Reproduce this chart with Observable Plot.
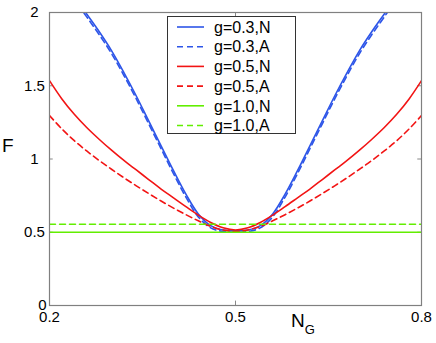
<!DOCTYPE html>
<html>
<head>
<meta charset="utf-8">
<script src="https://cdn.jsdelivr.net/npm/d3@7"></script>
<script src="https://cdn.jsdelivr.net/npm/@observablehq/plot@0.6"></script>
<style>
  body { margin: 0; background: #fff; font-family: "Liberation Sans", Arial, sans-serif; }
  #wrap { position: relative; width: 436px; height: 343px; }
  .lab { position: absolute; color: #000; line-height: 1; white-space: nowrap; }
</style>
</head>
<body>
<div id="wrap"></div>
<script>
// ---- data ----
const xs = [0.20,0.22,0.24,0.26,0.28,0.30,0.32,0.34,0.36,0.38,0.40,0.42,0.44,0.46,0.48,0.50,
            0.52,0.54,0.56,0.58,0.60,0.62,0.64,0.66,0.68,0.70,0.72,0.74,0.76,0.78,0.80];
const g03N = [2.35,2.23,2.11,1.99,1.87,1.74,1.59,1.43,1.26,1.09,0.92,0.76,0.625,0.545,0.515,0.51,
              0.515,0.545,0.625,0.76,0.92,1.09,1.26,1.43,1.59,1.74,1.87,1.99,2.11,2.23,2.35];
const g03A = [2.33,2.21,2.09,1.97,1.85,1.72,1.57,1.41,1.24,1.07,0.90,0.74,0.605,0.53,0.505,0.50,
              0.505,0.53,0.605,0.74,0.90,1.07,1.24,1.41,1.57,1.72,1.85,1.97,2.09,2.21,2.33];
const g05N = [1.535,1.41,1.305,1.215,1.135,1.06,0.99,0.925,0.86,0.795,0.735,0.675,0.617,0.567,0.53,0.515,
              0.53,0.567,0.617,0.675,0.735,0.795,0.86,0.925,0.99,1.06,1.135,1.215,1.305,1.41,1.535];
const g05A = [1.297,1.205,1.125,1.055,0.99,0.93,0.872,0.817,0.764,0.713,0.665,0.62,0.578,0.54,0.515,0.505,
              0.515,0.54,0.578,0.62,0.665,0.713,0.764,0.817,0.872,0.93,0.99,1.055,1.125,1.205,1.297];
const g10N = [0.5,0.5,0.5,0.5,0.5,0.5,0.5,0.5,0.5,0.5,0.5,0.5,0.5,0.5,0.5,0.5,
              0.5,0.5,0.5,0.5,0.5,0.5,0.5,0.5,0.5,0.5,0.5,0.5,0.5,0.5,0.5];
const g10A = [0.555,0.555,0.555,0.555,0.555,0.555,0.555,0.555,0.555,0.555,0.555,0.555,0.555,0.555,0.555,0.555,
              0.555,0.555,0.555,0.555,0.555,0.555,0.555,0.555,0.555,0.555,0.555,0.555,0.555,0.555,0.555];
const seriesNames = ["g=0.3,N","g=0.3,A","g=0.5,N","g=0.5,A","g=1.0,N","g=1.0,A"];
const seriesValues = [g03N, g03A, g05N, g05A, g10N, g10A];
const xTicks = [0.2, 0.5, 0.8];
const yTicks = [0, 0.5, 1, 1.5, 2];

// ---- styles ----
const colors = ["#2d55e8","#2d55e8","#f21414","#f21414","#62ee00","#62ee00"];
const dashes = [null,"6,4",null,"6,4",null,"6,4"];

const rows = [];
seriesNames.forEach((name, i) => {
  seriesValues[i].forEach((v, j) => rows.push({series: name, x: xs[j], F: v}));
});

const tickLenX = 0.006, tickLenY = 0.03;
const lineMarks = seriesNames.map((name, i) =>
  Plot.line(rows.filter(d => d.series === name), {
    x: "x", y: "F", stroke: colors[i], strokeWidth: 1.6,
    strokeDasharray: dashes[i], curve: "catmull-rom", clip: true
  })
);

const chart = Plot.plot({
  width: 436, height: 343,
  marginLeft: 49, marginRight: 15, marginTop: 12, marginBottom: 38,
  style: {fontFamily: "Liberation Sans, Arial, sans-serif", fontSize: "15px", color: "#000", background: "#fff"},
  x: {domain: [0.2, 0.8]},
  y: {domain: [0, 2]},
  marks: [
    // inner ticks
    Plot.ruleY(yTicks, {x1: 0.2, x2: 0.2 + tickLenX, stroke: "#888"}),
    Plot.ruleY(yTicks, {x1: 0.8 - tickLenX, x2: 0.8, stroke: "#888"}),
    Plot.ruleX(xTicks, {y1: 0, y2: tickLenY, stroke: "#888"}),
    Plot.ruleX(xTicks, {y1: 2 - tickLenY, y2: 2, stroke: "#888"}),
    ...lineMarks,
    Plot.frame({stroke: "#808080", strokeWidth: 1.2}),
    Plot.axisY(yTicks.filter(t => t !== 0), {tickSize: 0, tickPadding: 15, textAnchor: "middle", label: null, fontSize: 15, tickFormat: d => String(d)}),
    Plot.axisY([0], {tickSize: 0, tickPadding: 7, textAnchor: "middle", label: null, fontSize: 15, dy: 0, tickFormat: d => String(d)}),
    Plot.axisX(xTicks, {tickSize: 0, tickPadding: 6, label: null, fontSize: 15, tickFormat: d => String(d)})
  ]
});

const wrap = document.getElementById("wrap");
wrap.appendChild(chart);

// axis titles
const fLab = document.createElement("div");
fLab.className = "lab";
fLab.style.cssText = "left:2px;top:136px;font-size:19px;";
fLab.textContent = "F";
wrap.appendChild(fLab);

const nLab = document.createElement("div");
nLab.className = "lab";
nLab.style.cssText = "left:291px;top:311px;font-size:19px;";
nLab.innerHTML = 'N<span style="font-size:13px;position:relative;top:7px;">G</span>';
wrap.appendChild(nLab);

// legend (inside the axes)
const lw = 129, lh = 118;
const leg = d3.create("svg").attr("width", lw).attr("height", lh)
  .style("position", "absolute").style("left", "167px").style("top", "16px").style("overflow", "visible");
leg.append("rect").attr("x", 0.5).attr("y", 0.5).attr("width", lw - 1).attr("height", lh - 1)
  .attr("fill", "#fff").attr("stroke", "#333").attr("stroke-width", 1);
seriesNames.forEach((name, i) => {
  const cy = 11 + i * 19.7;
  leg.append("line").attr("x1", 10).attr("x2", 37).attr("y1", cy).attr("y2", cy)
    .attr("stroke", colors[i]).attr("stroke-width", 1.6)
    .attr("stroke-dasharray", dashes[i]);
  leg.append("text").attr("x", 47).attr("y", cy).attr("dy", "0.36em")
    .attr("font-size", 16).attr("font-family", "Liberation Sans, Arial, sans-serif")
    .attr("fill", "#000").text(name);
});
wrap.appendChild(leg.node());
</script>
</body>
</html>
